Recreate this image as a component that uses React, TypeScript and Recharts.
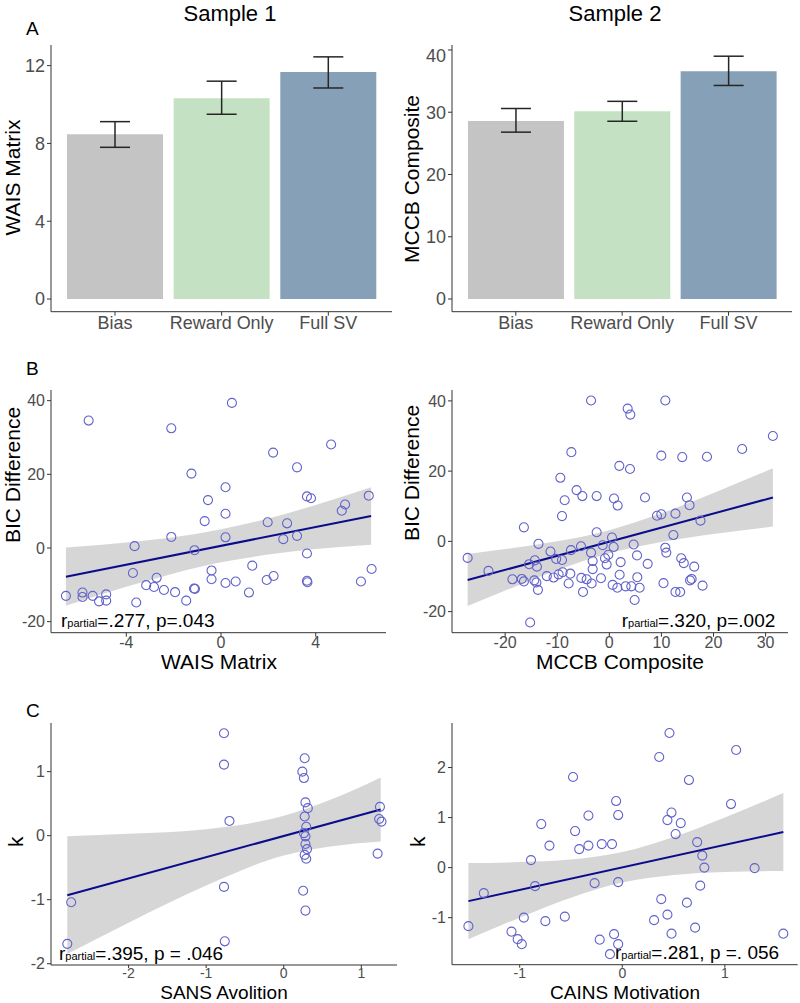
import {
  BarChart,
  ComposedChart,
  Bar,
  Cell,
  ErrorBar,
  XAxis,
  YAxis,
  Scatter,
  Area,
  Line,
} from "recharts";

// ---- panel A: bar charts ----
const barCategories = ["Bias", "Reward Only", "Full SV"];
const barColors = ["#c4c4c4", "#c4e2c3", "#86a1b7"];

const waisMean = [8.47, 10.32, 11.67];
const waisLow = [7.8, 9.5, 10.85];
const waisHigh = [9.12, 11.2, 12.45];

const mccbMean = [28.6, 30.15, 36.6];
const mccbLow = [26.8, 28.55, 34.3];
const mccbHigh = [30.6, 31.75, 39.0];

// ---- panel B: BIC difference scatter ----
const waisBic: [number, number][] = [
  [-5.59, 34.6], [-2.1, 32.5], [0.46, 39.4], [-1.25, 20.2], [2.2, 25.9], [4.65, 28.1],
  [3.21, 21.9], [0.19, 16.5], [-0.55, 13.0], [3.63, 14.0], [3.8, 13.5], [6.24, 14.2],
  [5.24, 11.8], [5.1, 10.1], [-0.69, 7.3], [0.19, 9.3], [1.97, 7.0], [2.79, 6.7],
  [2.63, 2.4], [3.21, 3.3], [-2.1, 3.0], [0.19, 2.9], [-3.65, 0.5], [-1.12, -0.6],
  [3.63, -1.5], [-3.72, -6.8], [-0.4, -6.1], [1.32, -4.8], [6.36, -5.7], [-2.72, -8.1],
  [-0.4, -8.5], [0.19, -9.5], [0.62, -9.1], [1.93, -8.7], [2.22, -7.6], [3.63, -8.9],
  [3.65, -9.3], [5.91, -9.1], [-3.16, -10.1], [-2.83, -10.6], [-2.41, -11.4], [-1.94, -12.0],
  [-1.14, -11.0], [-1.1, -11.1], [1.18, -12.1], [-1.47, -14.3], [-3.58, -14.8], [-6.55, -13.0],
  [-5.85, -12.1], [-5.85, -13.3], [-5.42, -13.0], [-5.15, -14.5], [-4.85, -12.6], [-4.85, -14.3],
];
const waisBandX = [-6.55, -4, -2, 0, 2, 4, 6.34];
const waisBandLo = [-15.7, -10.5, -6.9, -3.9, -1.8, -0.3, 0.9];
const waisBandHi = [0.1, 1.5, 2.9, 5.1, 8.0, 11.7, 16.5];
const waisFit: [number, number][] = [[-6.55, -7.8], [6.34, 8.7]];

const mccbBic: [number, number][] = [
  [-3.51, 40.1], [10.75, 40.1], [3.52, 37.8], [4.03, 36.1], [31.4, 30.0], [25.5, 26.3],
  [-7.29, 25.4], [9.98, 24.4], [14.0, 24.0], [18.75, 24.1], [1.92, 21.5], [3.97, 20.6],
  [-9.4, 18.1], [-6.28, 14.6], [-5.18, 12.9], [-2.43, 12.9], [0.9, 12.2], [6.85, 12.5],
  [14.9, 12.5], [-8.57, 11.7], [1.6, 10.2], [15.4, 10.3], [-9.08, 7.2], [9.15, 7.3],
  [9.98, 7.7], [12.7, 7.9], [-16.4, 4.0], [17.5, 5.9], [-2.43, 2.6], [12.3, 1.8],
  [-13.6, -0.7], [0.51, 1.1], [0.83, -1.6], [-1.28, -1.1], [4.67, -0.9], [-5.44, -1.4],
  [-7.36, -2.5], [-11.3, -2.9], [10.75, -1.8], [10.94, -3.2], [-27.2, -4.7], [-14.3, -5.4],
  [-15.4, -6.5], [-13.9, -7.2], [-10.2, -5.0], [-9.08, -5.3], [-3.51, -3.2], [-3.2, -5.6],
  [-0.83, -4.8], [-0.19, -3.8], [-0.51, -6.6], [2.17, -5.9], [5.32, -4.0], [7.36, -6.4],
  [13.8, -4.8], [14.3, -6.2], [16.3, -7.2], [-3.2, -7.9], [-23.2, -8.4], [-18.6, -10.8],
  [-16.8, -10.7], [-16.4, -11.4], [-14.4, -11.1], [-14.0, -11.7], [-13.7, -13.8], [-12.0, -9.9],
  [-10.7, -10.3], [-9.73, -9.4], [-8.96, -8.8], [-7.49, -9.2], [-7.81, -12.0], [-5.37, -10.4],
  [-4.35, -10.8], [-3.39, -12.0], [-5.05, -14.4], [-1.6, -10.5], [0.64, -12.4], [1.54, -13.2],
  [1.98, -9.5], [3.13, -12.8], [4.22, -12.8], [5.37, -10.2], [5.82, -13.2], [4.86, -16.7],
  [10.4, -11.9], [12.7, -14.4], [13.6, -14.4], [15.5, -11.1], [15.8, -10.7], [17.9, -12.6],
  [-15.2, -23.1],
];
const mccbBandX = [-27.2, -20, -10, 0, 10, 20, 31.4];
const mccbBandLo = [-18.4, -14.0, -8.2, -3.4, -0.2, 2.1, 4.2];
const mccbBandHi = [-3.6, -2.2, 0.0, 3.2, 8.0, 13.8, 20.8];
const mccbFit: [number, number][] = [[-27.2, -11.0], [31.4, 12.5]];

// ---- panel C: k scatter ----
const sansK: [number, number][] = [
  [-0.77, 1.6], [-0.77, 1.11], [-0.7, 0.23], [-0.77, -0.8], [-0.76, -1.65], [-2.74, -1.04],
  [-2.79, -1.69], [0.27, 1.21], [0.24, 1.0], [0.26, 0.9], [0.28, 0.52], [0.31, 0.43],
  [0.27, 0.3], [0.29, 0.14], [0.26, 0.04], [0.28, -0.01], [0.28, -0.13], [0.3, -0.21],
  [0.27, -0.3], [0.29, -0.36], [0.25, -0.86], [0.28, -1.17], [1.24, 0.45], [1.23, 0.26],
  [1.26, 0.22], [1.21, -0.28],
];
const sansBandX = [-2.79, -2, -1, 0, 0.6, 1.25];
const sansBandLo = [-1.85, -1.36, -0.78, -0.31, -0.17, -0.09];
const sansBandHi = [-0.01, 0.03, 0.1, 0.31, 0.56, 0.91];
const sansFit: [number, number][] = [[-2.79, -0.93], [1.25, 0.41]];

const cainsK: [number, number][] = [
  [0.46, 2.69], [1.11, 2.35], [0.36, 2.21], [-0.48, 1.81], [0.65, 1.75], [-0.06, 1.33],
  [1.06, 1.27], [-0.33, 1.04], [-0.04, 1.05], [0.48, 1.1], [0.44, 0.95], [0.57, 0.89],
  [-0.79, 0.87], [-0.46, 0.73], [0.52, 0.67], [-0.71, 0.44], [-0.42, 0.37], [-0.33, 0.44],
  [-0.2, 0.47], [-0.1, 0.47], [0.73, 0.51], [-0.89, 0.15], [0.78, 0.24], [0.8, 0.0],
  [1.29, -0.01], [-0.85, -0.37], [-0.27, -0.31], [-0.04, -0.29], [0.76, -0.36], [-1.35, -0.51],
  [0.38, -0.63], [0.63, -0.7], [-0.96, -1.0], [-0.56, -0.98], [-0.75, -1.07], [0.31, -1.05],
  [0.44, -0.94], [-1.5, -1.17], [0.71, -1.2], [-1.08, -1.28], [0.48, -1.32], [1.57, -1.32],
  [-1.02, -1.43], [-0.98, -1.53], [-0.22, -1.44], [-0.08, -1.33], [-0.04, -1.53], [-0.12, -1.73],
];
const cainsBandX = [-1.5, -1, -0.5, 0, 0.5, 1, 1.57];
const cainsBandLo = [-1.43, -1.0, -0.6, -0.3, -0.15, -0.09, -0.07];
const cainsBandHi = [0.09, 0.11, 0.16, 0.31, 0.61, 1.0, 1.49];
const cainsFit: [number, number][] = [[-1.5, -0.67], [1.57, 0.71]];

const FONT = '"Liberation Sans", Arial, sans-serif';
const AXIS = "#333333";
const TICK = "#4d4d4d";
const Y_W = 50;
const X_H = 30;
const zero = { top: 0, right: 0, bottom: 0, left: 0 };

function BarPanel({ left, top, width, height, domain, ticks, mean, low, high }: any) {
  const data = barCategories.map((name, i) => ({
    name,
    mean: mean[i],
    err: [mean[i] - low[i], high[i] - mean[i]],
  }));
  // ggplot discrete axis: 0.6 units of expansion on each side
  const pad = (width - Y_W) / 32;
  return (
    <div style={{ position: "absolute", left, top }}>
      <BarChart width={width} height={height} data={data} margin={zero} barCategoryGap="5%">
        <XAxis
          dataKey="name"
          padding={{ left: pad, right: pad }}
          height={X_H}
          stroke={AXIS}
          tickSize={4}
          tickMargin={1}
          tick={{ fill: TICK, fontSize: 18, fontFamily: FONT }}
        />
        <YAxis
          type="number"
          domain={domain}
          ticks={ticks}
          allowDataOverflow
          width={Y_W}
          stroke={AXIS}
          tickSize={4}
          tickMargin={2}
          tick={{ fill: TICK, fontSize: 18, fontFamily: FONT }}
        />
        <Bar dataKey="mean" isAnimationActive={false}>
          {data.map((_, i) => (
            <Cell key={i} fill={barColors[i]} />
          ))}
          <ErrorBar dataKey="err" width={15} stroke="#262626" strokeWidth={1.5} direction="y" />
        </Bar>
      </BarChart>
    </div>
  );
}

function ScatterPanel({
  left, top, width, height, xDomain, yDomain, xTicks, yTicks, points, bandX, bandLo, bandHi, fit,
  xFont = 16, xTickSize = 4,
}: any) {
  const band = bandX.map((x: number, i: number) => ({ x, band: [bandLo[i], bandHi[i]] }));
  const pts = points.map(([x, y]: number[]) => ({ x, y }));
  const fitData = fit.map(([x, y]: number[]) => ({ x, y }));
  return (
    <div style={{ position: "absolute", left, top }}>
      <ComposedChart width={width} height={height} data={band} margin={zero}>
        <XAxis
          type="number"
          dataKey="x"
          domain={xDomain}
          ticks={xTicks}
          allowDataOverflow
          height={X_H}
          stroke={AXIS}
          tickSize={xTickSize}
          tickMargin={0}
          tick={{ fill: TICK, fontSize: xFont, fontFamily: FONT }}
        />
        <YAxis
          type="number"
          dataKey="y"
          domain={yDomain}
          ticks={yTicks}
          allowDataOverflow
          width={Y_W}
          stroke={AXIS}
          tickSize={4}
          tickMargin={2}
          tick={{ fill: TICK, fontSize: 16, fontFamily: FONT }}
        />
        <Scatter
          data={pts}
          dataKey="y"
          fill="none"
          stroke="#6262cc"
          strokeWidth={1.1}
          isAnimationActive={false}
        />
        <Area
          dataKey="band"
          type="monotone"
          fill="#999999"
          fillOpacity={0.4}
          stroke="none"
          isAnimationActive={false}
        />
        <Line
          data={fitData}
          dataKey="y"
          stroke="#0b0b8c"
          strokeWidth={2}
          dot={false}
          isAnimationActive={false}
        />
      </ComposedChart>
    </div>
  );
}

function Stat({ x, y, value }: { x: number; y: number; value: string }) {
  return (
    <text x={x} y={y} fontFamily={FONT} fontSize={19} fill="#000">
      r<tspan fontSize={11}>partial</tspan>
      {value}
    </text>
  );
}

function YTitle({ x, y, children }: any) {
  return (
    <text
      transform={`translate(${x},${y}) rotate(-90)`}
      textAnchor="middle"
      fontFamily={FONT}
      fontSize={21}
      fill="#000"
    >
      {children}
    </text>
  );
}

function XTitle({ x, y, size = 21, children }: any) {
  return (
    <text x={x} y={y} textAnchor="middle" fontFamily={FONT} fontSize={size} fill="#000">
      {children}
    </text>
  );
}

export default function App() {
  return (
    <div
      style={{
        position: "absolute",
        left: 0,
        top: 0,
        width: 800,
        height: 1003,
        background: "#fff",
        overflow: "hidden",
      }}
    >
      <BarPanel
        left={0.7} top={45} width={391.3} height={296.7}
        domain={[-0.65, 13.06]} ticks={[0, 4, 8, 12]}
        mean={waisMean} low={waisLow} high={waisHigh}
      />
      <BarPanel
        left={401.7} top={45} width={390.3} height={296.7}
        domain={[-2.04, 40.8]} ticks={[0, 10, 20, 30, 40]}
        mean={mccbMean} low={mccbLow} high={mccbHigh}
      />
      <ScatterPanel
        left={0.7} top={390} width={385.3} height={272.7}
        xDomain={[-7.18, 6.98]} yDomain={[-23, 42.9]}
        xTicks={[-4, 0, 4]} yTicks={[-20, 0, 20, 40]}
        points={waisBic} bandX={waisBandX} bandLo={waisBandLo} bandHi={waisBandHi} fit={waisFit}
      />
      <ScatterPanel
        left={401.7} top={390} width={386} height={272.7}
        xDomain={[-30.2, 34.3]} yDomain={[-26, 43.1]}
        xTicks={[-20, -10, 0, 10, 20, 30]} yTicks={[-20, 0, 20, 40]}
        points={mccbBic} bandX={mccbBandX} bandLo={mccbBandLo} bandHi={mccbBandHi} fit={mccbFit}
      />
      <ScatterPanel
        left={0.7} top={723} width={396} height={272}
        xDomain={[-3.0, 1.46]} yDomain={[-2.02, 1.76]}
        xTicks={[-2, -1, 0, 1]} yTicks={[-2, -1, 0, 1]}
        xFont={14} xTickSize={3}
        points={sansK} bandX={sansBandX} bandLo={sansBandLo} bandHi={sansBandHi} fit={sansFit}
      />
      <ScatterPanel
        left={402.3} top={723.3} width={395.7} height={271.7}
        xDomain={[-1.66, 1.71]} yDomain={[-1.94, 2.89]}
        xTicks={[-1, 0, 1]} yTicks={[-1, 0, 1, 2]}
        xFont={14} xTickSize={3}
        points={cainsK} bandX={cainsBandX} bandLo={cainsBandLo} bandHi={cainsBandHi} fit={cainsFit}
      />

      <svg
        width={800}
        height={1003}
        style={{ position: "absolute", left: 0, top: 0, pointerEvents: "none" }}
      >
        <text x={230} y={21} textAnchor="middle" fontFamily={FONT} fontSize={22} fill="#000">Sample 1</text>
        <text x={615} y={21} textAnchor="middle" fontFamily={FONT} fontSize={22} fill="#000">Sample 2</text>
        <text x={26} y={35} fontFamily={FONT} fontSize={19} fill="#000">A</text>
        <text x={26} y={375} fontFamily={FONT} fontSize={19} fill="#000">B</text>
        <text x={26} y={717} fontFamily={FONT} fontSize={19} fill="#000">C</text>

        <YTitle x={19.5} y={177.5}>WAIS Matrix</YTitle>
        <YTitle x={419} y={179}>MCCB Composite</YTitle>
        <YTitle x={19.5} y={475}>BIC Difference</YTitle>
        <YTitle x={419} y={473}>BIC Difference</YTitle>
        <YTitle x={23.3} y={841.7}>k</YTitle>
        <YTitle x={425} y={841.7}>k</YTitle>

        <XTitle x={219} y={669}>WAIS Matrix</XTitle>
        <XTitle x={620} y={669}>MCCB Composite</XTitle>
        <XTitle x={224} y={999} size={19}>SANS Avolition</XTitle>
        <XTitle x={625} y={999} size={19}>CAINS Motivation</XTitle>

        <Stat x={61} y={627.3} value="=.277, p=.043" />
        <Stat x={621.7} y={627} value="=.320, p=.002" />
        <Stat x={59} y={960} value="=.395, p = .046" />
        <Stat x={615} y={958.5} value="=.281, p =. 056" />
      </svg>
    </div>
  );
}
